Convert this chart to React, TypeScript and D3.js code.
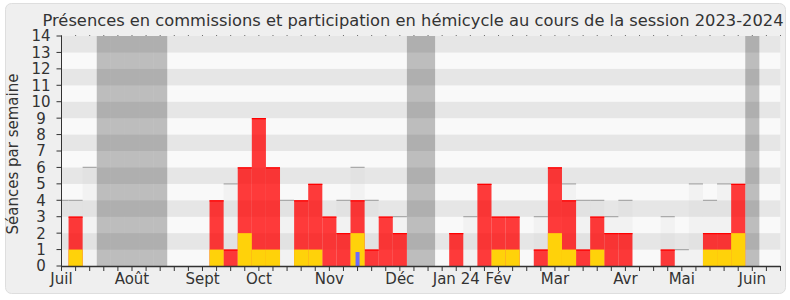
import React from "react";
import * as d3 from "d3";

const title = "Présences en commissions et participation en hémicycle au cours de la session 2023-2024";
const yLabel = "Séances par semaine";

// Week index -> value (weeks are indexed from the start of July 2023)
const hemicycleWeeks = [1, 11, 12, 13, 14, 15, 17, 18, 19, 20, 21, 22, 23, 24, 28, 30, 31, 32, 34, 35, 36, 37, 38, 39, 40, 43, 46, 47, 48];
const hemicycleValues = [3, 4, 1, 6, 9, 6, 4, 5, 3, 2, 4, 1, 3, 2, 2, 5, 3, 3, 1, 6, 4, 1, 3, 2, 2, 1, 2, 2, 5];

const commissionWeeks = [1, 11, 13, 14, 15, 17, 18, 21, 31, 32, 35, 36, 38, 46, 47, 48];
const commissionValues = [1, 1, 2, 1, 1, 1, 1, 2, 1, 1, 2, 1, 1, 1, 1, 2];

const questionWeeks = [21];
const questionValues = [0.85];

const medianWeeks = [0, 1, 2, 12, 16, 20, 21, 22, 24, 29, 34, 36, 37, 38, 39, 40, 43, 44, 45, 46, 47];
const medianValues = [4, 4, 6, 5, 4, 4, 6, 4, 3, 3, 3, 5, 4, 4, 3, 4, 3, 1, 5, 4, 5];

const vacationWeeks = [3, 4, 5, 6, 7, 25, 26, 49];

const monthTicks = [0, 5, 10, 14, 19, 24, 28, 31, 35, 40, 44, 49];
const monthLabels = ["Juil", "Août", "Sept", "Oct", "Nov", "Déc", "Jan 24", "Fév", "Mar", "Avr", "Mai", "Juin"];

const weekCount = 51;
const yMax = 14;

export default function App() {
  const W = 790, H = 300;
  const left = 61.5, right = 780.5, top = 36, bottom = 266;
  const x = d3.scaleLinear().domain([0, weekCount]).range([left, right]);
  const y = d3.scaleLinear().domain([0, yMax]).range([bottom, top]);
  const font = "'DejaVu Sans', sans-serif";
  const yTicks = d3.range(0, yMax + 1);
  const weekTicks = d3.range(0, weekCount + 1);
  const bands = d3.range(0, yMax);

  const bar = (k: number, v: number) => ({
    x: x(k - 0.5),
    w: x(k + 0.5) - x(k - 0.5),
    y: y(v),
    h: y(0) - y(v),
  });

  return (
    <svg width={W} height={H} style={{ position: "absolute", left: 0, top: 0, background: "#fff" }}
      fontFamily={font}>
      <defs>
        <clipPath id="plot">
          <rect x={left} y={top} width={right - left} height={bottom - top} />
        </clipPath>
      </defs>
      <rect x={5.5} y={3.5} width={780} height={290} rx={6} fill="#efefef" stroke="#dedede" />
      <text x={413} y={26} textAnchor="middle" fontSize={16.3} fill="#333">{title}</text>
      <g clipPath="url(#plot)">
        {bands.map((b) => (
          <rect key={"b" + b} x={left} width={right - left} y={y(b + 1)} height={y(b) - y(b + 1)}
            fill={b % 2 === 1 ? "#e6e6e6" : "#f9f9f9"} />
        ))}
        {vacationWeeks.map((k) => {
          const r = bar(k, yMax);
          return <rect key={"v" + k} x={r.x} y={r.y} width={r.w} height={r.h} fill="#000" fillOpacity={0.24} />;
        })}
        {medianWeeks.map((k, i) => {
          const r = bar(k, medianValues[i]);
          return (
            <g key={"m" + k}>
              <rect x={r.x} y={r.y} width={r.w} height={r.h} fill="#d3d3d3" fillOpacity={0.18} />
              <line x1={r.x} x2={r.x + r.w} y1={r.y} y2={r.y} stroke="#aaa" strokeWidth={1.2} />
            </g>
          );
        })}
        {hemicycleWeeks.map((k, i) => {
          const r = bar(k, hemicycleValues[i]);
          return (
            <g key={"h" + k}>
              <rect x={r.x} y={r.y} width={r.w} height={r.h} fill="#ff0000" fillOpacity={0.77} />
              <line x1={r.x} x2={r.x + r.w} y1={r.y + 0.5} y2={r.y + 0.5} stroke="#ff0000" strokeWidth={1.2} />
            </g>
          );
        })}
        {commissionWeeks.map((k, i) => {
          const r = bar(k, commissionValues[i]);
          return <rect key={"c" + k} x={r.x} y={r.y} width={r.w} height={r.h} fill="#ffd20a" />;
        })}
        {questionWeeks.map((k, i) => {
          const c = x(k);
          return (
            <rect key={"q" + k} x={c - 2} y={y(questionValues[i])} width={4}
              height={y(0) - y(questionValues[i])} fill="#6b6bff" />
          );
        })}
      </g>
      {/* axes */}
      <line x1={left} x2={left} y1={top} y2={bottom} stroke="#333" />
      <line x1={left} x2={right} y1={bottom + 0.5} y2={bottom + 0.5} stroke="#333" strokeWidth={1.5} />
      {yTicks.map((t) => (
        <g key={"yt" + t}>
          <line x1={left - 5} x2={left} y1={y(t)} y2={y(t)} stroke="#333" />
          <text x={41} y={y(t)} dy="0.36em" textAnchor="middle" fontSize={15} fill="#333">{t}</text>
        </g>
      ))}
      {weekTicks.map((t) => (
        <g key={"xt" + t}>
          <line x1={x(t)} x2={x(t)} y1={bottom} y2={bottom + 5} stroke="#333" />
          <line x1={x(t)} x2={x(t)} y1={top - 1} y2={top} stroke="#333" strokeOpacity={0.7} />
        </g>
      ))}
      {monthTicks.map((k, i) => (
        <text key={"ml" + k} x={x(k)} y={284} textAnchor="middle" fontSize={15} fill="#333">{monthLabels[i]}</text>
      ))}
      <text transform={`translate(18,154) rotate(-90)`} textAnchor="middle" fontSize={15} fill="#333">{yLabel}</text>
    </svg>
  );
}
